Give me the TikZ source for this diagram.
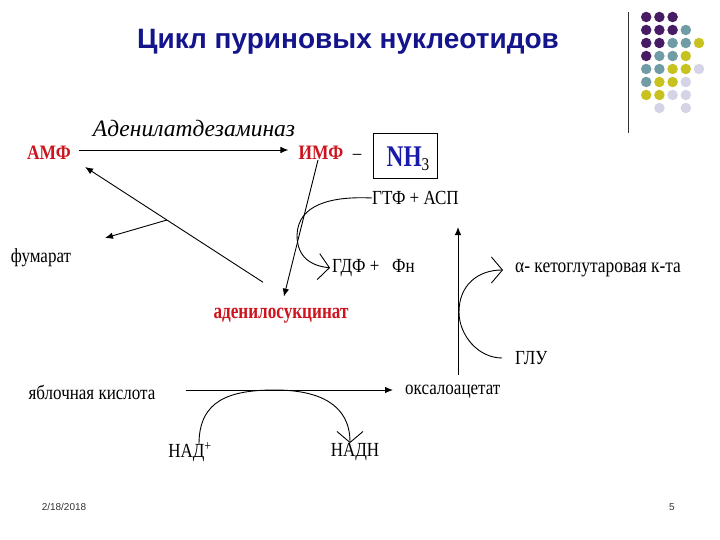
\documentclass[tikz,border=0pt]{standalone}
\usepackage{fontspec}
\setmainfont{Liberation Serif}
\newfontfamily\bodyf[FakeStretch=0.85]{Liberation Serif}
\newfontfamily\narrowf[FakeStretch=0.78]{Liberation Serif}
\newfontfamily\titlef{Liberation Sans}
\newfontfamily\footf{Liberation Sans}
\usetikzlibrary{arrows.meta,calc}
\definecolor{titleblue}{RGB}{20,20,140}
\definecolor{redtxt}{RGB}{205,20,30}
\definecolor{nhblue}{RGB}{25,25,170}
\definecolor{dotP}{RGB}{72,28,100}
\definecolor{dotT}{RGB}{112,156,166}
\definecolor{dotY}{RGB}{200,194,32}
\definecolor{dotL}{RGB}{212,212,230}
\begin{document}
\begin{tikzpicture}[x=1pt,y=-1pt,
  body/.style={font=\bodyf\fontsize{20}{22}\selectfont, inner sep=0pt},
  redbold/.style={font=\bodyf\bfseries\fontsize{20.5}{22}\selectfont, text=redtxt, inner sep=0pt},
  enzstyle/.style={font=\itshape\fontsize{23.5}{25}\selectfont, inner sep=0pt},
  titlestyle/.style={font=\titlef\bfseries\fontsize{28}{30}\selectfont, text=titleblue, inner sep=0pt},
  footstyle/.style={font=\footf\fontsize{10}{11}\selectfont, text=black!80, inner sep=0pt},
  conn/.style={line width=0.9pt},
  solidtip/.style={-{Latex[length=8pt,width=6.5pt]}},
  barbtip/.style={-{Straight Barb[length=11pt,width=26pt]}},
  dot/.style={circle, inner sep=0pt, minimum size=10.5pt},
]
\useasboundingbox (0,0) rectangle (720,540);

% decoration top right
\draw[line width=1pt, black!80] (628,12) -- (628,133);
\foreach \c/\r/\col in {1/1/dotP,2/1/dotP,3/1/dotP,
  1/2/dotP,2/2/dotP,3/2/dotP,4/2/dotT,
  1/3/dotP,2/3/dotP,3/3/dotT,4/3/dotT,5/3/dotY,
  1/4/dotP,2/4/dotT,3/4/dotT,4/4/dotY,
  1/5/dotT,2/5/dotT,3/5/dotY,4/5/dotY,5/5/dotL,
  1/6/dotT,2/6/dotY,3/6/dotY,4/6/dotL,
  1/7/dotY,2/7/dotY,3/7/dotL,4/7/dotL,
  2/8/dotL,4/8/dotL}
  \node[dot, fill=\col] (d\c\r) at ({633+13.2*\c},{4+13*\r}) {};

% title
\node[titlestyle] (title) at (348,42) {Цикл пуриновых нуклеотидов};

% texts
\node[enzstyle] (enz) at (194,128) {Аденилатдезаминаз};
\node[redbold] (amf) at (49,153) {АМФ};
\node[redbold] (imf) at (321,153) {ИМФ};
\node[body] (dash) at (357,157) {–};
\node[draw, line width=0.8pt, minimum width=64pt, minimum height=45pt, inner sep=0pt] (nh3) at (405,155.5) {};
\node[inner sep=0pt] (nh3t) at (408,159) {{\narrowf\bfseries\fontsize{30}{31}\selectfont\color{nhblue}NH}{\bodyf\fontsize{18}{18}\selectfont\raisebox{-4pt}{3}}};
\node[body, anchor=west] (gtf) at (372,198) {ГТФ + АСП};
\node[body, anchor=west] (gdf) at (332,268) {ГДФ +\ \ \ Фн};
\node[body] (fum) at (41,258) {фумарат};
\node[redbold, font=\narrowf\bfseries\fontsize{22}{23}\selectfont] (ads) at (281,316) {аденилосукцинат};
\node[body, anchor=west, font=\bodyf\fontsize{20.5}{22}\selectfont] (akg) at (515,270) {α- кетоглутаровая к-та};
\node[body, anchor=west] (glu) at (515,358) {ГЛУ};
\node[body] (mal) at (92,392) {яблочная кислота};
\node[body, anchor=west] (oxa) at (405,392) {оксалоацетат};
\node[body] (nad) at (190,452) {НАД\textsuperscript{+}};
\node[body] (nadh) at (355,452) {НАДН};

\node[footstyle] (date) at (64,507) {2/18/2018};
\node[footstyle] (page) at (672,507) {5};

% connectors
\draw[conn, solidtip] ([xshift=8pt,yshift=3pt]amf.east) -- ([xshift=-10pt,yshift=3pt]imf.west);
\draw[conn, solidtip, shorten >=12pt] ([xshift=-3pt]imf.south) -- (ads.north);
\draw[conn, solidtip] ($(ads.north)+(-18,-26)$) -- coordinate[pos=0.54] (fumfork) ($(amf.east)+(14,14)$);
\coordinate (fumtip) at (105,238);
\draw[conn, solidtip] (fumfork) -- (fumtip);

\draw[conn, barbtip, shorten >=2pt] (gtf.west) .. controls (330,196) and (298,205) .. (297,235)
  .. controls (297,258) and (312,266) .. (gdf.west);

\coordinate (upbot) at (458,375);
\coordinate (uptop) at (458,227);
\draw[conn, solidtip] (upbot) -- (uptop);
\draw[conn, barbtip, shorten <=13pt, shorten >=12pt] (glu.west) .. controls (478,358) and (459,335) .. (459,312)
  .. controls (459,285) and (478,270) .. (akg.west);

\draw[conn, solidtip, shorten <=30pt, shorten >=12pt] ([yshift=2pt]mal.east) -- ([yshift=2pt]oxa.west);
\draw[conn, barbtip] ($(nad.north)+(9,2)$) .. controls (199,400) and (230,390) .. (275,390)
  .. controls (320,390) and (350,405) .. ($(nadh.north)+(-5,0)$);
\end{tikzpicture}
\end{document}
